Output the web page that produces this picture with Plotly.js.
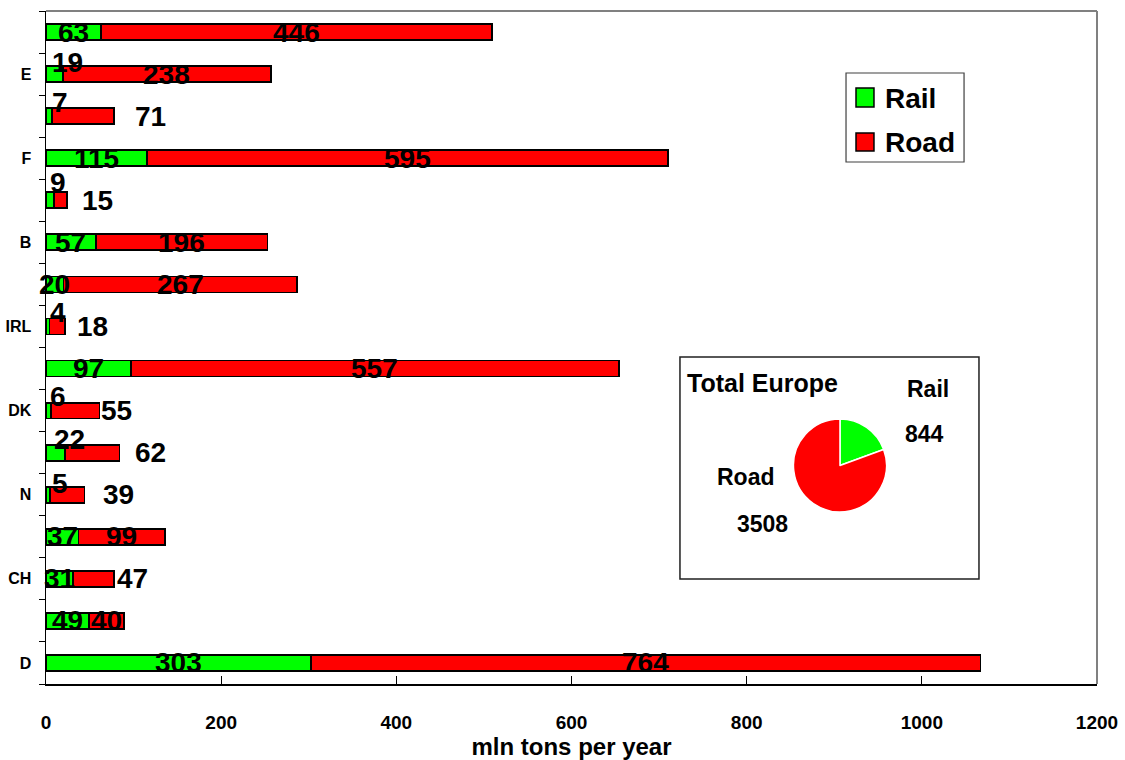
<!DOCTYPE html>
<html>
<head>
<meta charset="utf-8">
<script src="https://cdn.plot.ly/plotly-3.0.1.min.js"></script>
<style>html,body{margin:0;padding:0;background:#fff}#chart{width:1125px;height:760px}</style>
</head>
<body>
<div id="chart"></div>
<script>
// ---- data (bottom to top) ----
const railValues = [303, 49, 31, 37, 5, 22, 6, 97, 4, 20, 57, 9, 115, 7, 19, 63];
const roadValues = [764, 40, 47, 99, 39, 62, 55, 557, 18, 267, 196, 15, 595, 71, 238, 446];
const tickLabelIndex = [0, 2, 4, 6, 8, 10, 12, 14];
const tickLabels = ['D', 'CH', 'N', 'DK', 'IRL', 'B', 'F', 'E'];
const xTicks = [0, 200, 400, 600, 800, 1000, 1200];
const seriesNames = ['Rail', 'Road'];
const pieTotals = [844, 3508];
const insetTitle = 'Total Europe';
const xTitle = 'mln tons per year';

// ---- label placement (style) ----
const railLabelMode = ['in','in','in','in','above','above','above','in','above','in','in','above','in','above','above','in'];
const railLabelDy   = [0,0,0,0,11,13,14,0,14,0,0,18,0,14,12,0];
const railLabelDx   = [0,0,0,0,4,6,2,0,2,0,0,2,0,4,4,0];
const roadLabelMode = ['in','in','right','in','right','right','right','in','right','in','in','right','in','right','in','in'];
const roadLabelDx   = [0,0,1,0,16,13,0,0,10,0,0,13,0,19,0,0];

const GREEN = '#00FF00', RED = '#FF0000';
const FONT = 'Arial, "Liberation Sans", Helvetica, sans-serif';
const yPos = railValues.map((_, i) => i);

const barLine = {color: '#000', width: 1.8};
const traces = [
  {type: 'bar', orientation: 'h', name: seriesNames[0], y: yPos, x: railValues,
   marker: {color: GREEN, line: barLine}, width: 0.38, hoverinfo: 'x', showlegend: false},
  {type: 'bar', orientation: 'h', name: seriesNames[1], y: yPos, x: roadValues,
   marker: {color: RED, line: barLine}, width: 0.38, hoverinfo: 'x', showlegend: false},
  {type: 'pie', values: pieTotals, labels: seriesNames, sort: false, direction: 'clockwise',
   rotation: 0, textinfo: 'none', hoverinfo: 'label+value', showlegend: false,
   marker: {colors: [GREEN, RED], line: {color: '#fff', width: 1.5}},
   domain: {x: [0.7112, 0.7997], y: [0.2556, 0.3938]}}
];

const labelFont = {family: FONT, size: 28, color: '#000', weight: 'bold'};
const annotations = [];
yPos.forEach(i => {
  const r = railValues[i], d = roadValues[i];
  if (railLabelMode[i] === 'in') {
    annotations.push({x: r / 2, y: i, xref: 'x', yref: 'y', text: String(r), showarrow: false, font: labelFont,
      xanchor: 'center', yanchor: 'middle'});
  } else {
    annotations.push({x: 0, y: i, xref: 'x', yref: 'y', text: String(r), showarrow: false, font: labelFont,
      xanchor: 'left', yanchor: 'middle', xshift: railLabelDx[i], yshift: railLabelDy[i]});
  }
  if (roadLabelMode[i] === 'in') {
    annotations.push({x: r + d / 2, y: i, xref: 'x', yref: 'y', text: String(d), showarrow: false, font: labelFont,
      xanchor: 'center', yanchor: 'middle'});
  } else {
    annotations.push({x: r + d, y: i, xref: 'x', yref: 'y', text: String(d), showarrow: false, font: labelFont,
      xanchor: 'left', yanchor: 'middle', xshift: roadLabelDx[i]});
  }
});

function paperText(x, y, text, font, xanchor) {
  return {x: x, y: y, xref: 'paper', yref: 'paper', text: text, showarrow: false,
          xanchor: xanchor || 'center', yanchor: 'middle', font: font};
}

// legend (manual)
const legFont = {family: FONT, size: 28, color: '#000', weight: 'bold'};
annotations.push(paperText(0.7964, 0.8707, seriesNames[0], legFont, 'left'));
annotations.push(paperText(0.7964, 0.8053, seriesNames[1], legFont, 'left'));

// inset pie labels
const insFont = {family: FONT, size: 23, color: '#000', weight: 'bold'};
const insTitleFont = {family: FONT, size: 25, color: '#000', weight: 'bold'};
annotations.push(paperText(0.6080, 0.4473, insetTitle, insTitleFont, 'left'));
annotations.push(paperText(0.8392, 0.4383, seriesNames[0], insFont));
annotations.push(paperText(0.8363, 0.3715, String(pieTotals[0]), insFont));
annotations.push(paperText(0.6660, 0.3076, seriesNames[1], insFont));
annotations.push(paperText(0.6822, 0.2377, String(pieTotals[1]), insFont));

const shapes = [
  // top & right gray frame
  {type: 'line', xref: 'paper', yref: 'paper', x0: 0, x1: 1, y0: 1, y1: 1, line: {color: '#808080', width: 2}},
  {type: 'line', xref: 'paper', yref: 'paper', x0: 1, x1: 1, y0: 0, y1: 1, line: {color: '#808080', width: 2}},
  // legend box and swatches
  {type: 'rect', xref: 'paper', yref: 'paper', x0: 0.7612, x1: 0.8735, y0: 0.7756, y1: 0.9079, line: {color: '#404040', width: 1.2}, fillcolor: '#fff', layer: 'below'},
  {type: 'rect', xref: 'paper', yref: 'paper', x0: 0.7707, x1: 0.7878, y0: 0.8574, y1: 0.8856, line: {color: '#000', width: 1.5}, fillcolor: GREEN},
  {type: 'rect', xref: 'paper', yref: 'paper', x0: 0.7707, x1: 0.7878, y0: 0.7920, y1: 0.8187, line: {color: '#000', width: 1.5}, fillcolor: RED},
  // inset box
  {type: 'rect', xref: 'paper', yref: 'paper', x0: 0.6032, x1: 0.8877, y0: 0.1560, y1: 0.4859, line: {color: '#202020', width: 1.5}, fillcolor: '#fff', layer: 'below'}
];

const layout = {
  width: 1125, height: 760,
  margin: {l: 46, r: 28, t: 11, b: 76, pad: 0},
  paper_bgcolor: '#fff', plot_bgcolor: 'rgba(0,0,0,0)',
  barmode: 'stack', bargap: 0,
  showlegend: false,
  font: {family: FONT, color: '#000'},
  xaxis: {
    range: [0, 1200], tickmode: 'array', tickvals: xTicks, ticktext: xTicks.map(String),
    ticks: 'inside', ticklen: 8, tickwidth: 1, tickcolor: '#000',
    showline: true, linecolor: '#000', linewidth: 1.5, showgrid: false, zeroline: false,
    tickfont: {family: FONT, size: 19, color: '#000', weight: 'bold'},
    ticklabelstandoff: 21,
    title: {text: xTitle, font: {family: FONT, size: 24, color: '#000', weight: 'bold'}, standoff: 4},
    fixedrange: true
  },
  yaxis: {
    range: [-0.5, yPos.length - 0.5], tickmode: 'array', tickvals: tickLabelIndex, ticktext: tickLabels,
    ticks: 'outside', ticklen: 0, tickcolor: '#000',
    minor: {tickmode: 'linear', tick0: -0.5, dtick: 1, ticks: 'outside', ticklen: 6, tickwidth: 1, tickcolor: '#000', showgrid: false},
    showline: true, linecolor: '#000', linewidth: 1.5, showgrid: false, zeroline: false,
    tickfont: {family: FONT, size: 16, color: '#000', weight: 'bold'},
    ticklabelstandoff: 10,
    fixedrange: true
  },
  annotations: annotations,
  shapes: shapes
};

Plotly.newPlot('chart', traces, layout, {displayModeBar: false, staticPlot: true});
</script>
</body>
</html>
